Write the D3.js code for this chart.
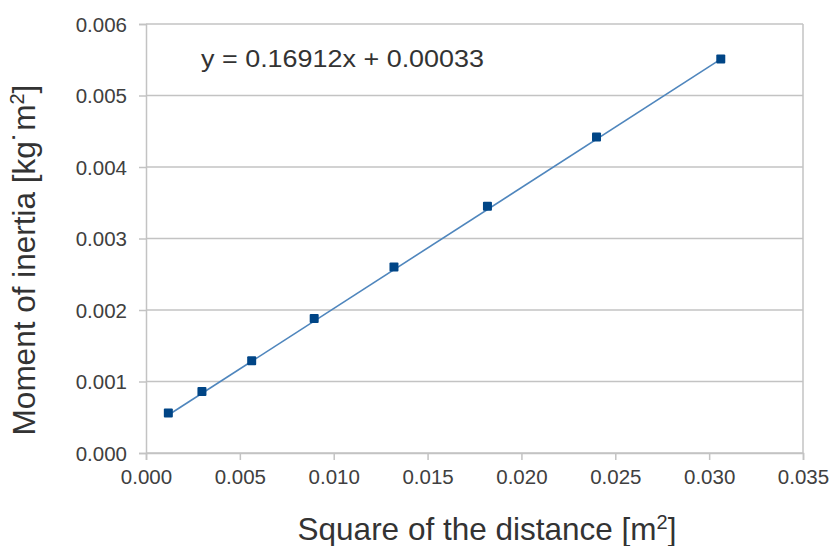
<!DOCTYPE html>
<html>
<head>
<meta charset="utf-8">
<script src="https://cdn.jsdelivr.net/npm/d3@7"></script>
<style>
  html, body { margin: 0; padding: 0; background: #fff; }
  svg { display: block; font-family: "Liberation Sans", Arial, sans-serif; }
</style>
</head>
<body>
<div id="chart"></div>
<script>
// datos
const distSq  = [0.00119, 0.00298, 0.00563, 0.00896, 0.01321, 0.01819, 0.0240, 0.03062];
const inertia = [0.00056, 0.00086, 0.00129, 0.00188, 0.00260, 0.00345, 0.00442, 0.00551];
const slope = 0.16912;
const intercept = 0.00033;
const xTicks = [0, 0.005, 0.010, 0.015, 0.020, 0.025, 0.030, 0.035];
const yTicks = [0, 0.001, 0.002, 0.003, 0.004, 0.005, 0.006];

// estilo
const W = 829, H = 546;
const GRID = "#c3c3c3";
const TXT  = "#404040";
const MARK = "#004586";
const LINE = "#4f86bd";

const m = { left: 146, right: 26, top: 24, bottom: 93 };

const svg = d3.select("#chart").append("svg")
  .attr("width", W)
  .attr("height", H);

const x = d3.scaleLinear().domain([0, 0.035]).range([m.left, W - m.right]);
const y = d3.scaleLinear().domain([0, 0.006]).range([H - m.bottom, m.top]);

// rejilla horizontal
svg.append("g")
  .selectAll("line")
  .data(yTicks)
  .join("line")
  .attr("x1", x(0)).attr("x2", x(0.035))
  .attr("y1", d => y(d)).attr("y2", d => y(d))
  .attr("stroke", GRID).attr("stroke-width", 1.5);

// borde derecho
svg.append("line")
  .attr("x1", x(0.035)).attr("x2", x(0.035))
  .attr("y1", y(0)).attr("y2", y(0.006))
  .attr("stroke", GRID).attr("stroke-width", 1.5);

// ejes
const xAxis = svg.append("g")
  .attr("transform", `translate(0,${y(0)})`)
  .call(d3.axisBottom(x).tickValues(xTicks).tickFormat(d3.format(".3f")).tickSize(7).tickPadding(9));

const yAxis = svg.append("g")
  .attr("transform", `translate(${x(0)},0)`)
  .call(d3.axisLeft(y).tickValues(yTicks).tickFormat(d3.format(".3f")).tickSize(7).tickPadding(12));

[xAxis, yAxis].forEach(a => {
  a.select(".domain").attr("stroke", GRID).attr("stroke-width", 1.5);
  a.selectAll(".tick line").attr("stroke", GRID).attr("stroke-width", 1.5);
  a.selectAll(".tick text")
    .attr("fill", TXT)
    .style("font-size", "20.5px")
    .style("font-family", "Liberation Sans, Arial, sans-serif");
});
yAxis.selectAll(".tick text").attr("dy", "0.35em");

// línea de tendencia
const xs = d3.extent(distSq);
svg.append("line")
  .attr("x1", x(xs[0])).attr("y1", y(slope * xs[0] + intercept))
  .attr("x2", x(xs[1])).attr("y2", y(slope * xs[1] + intercept))
  .attr("stroke", LINE).attr("stroke-width", 1.6);

// puntos
const S = 9;
svg.append("g")
  .selectAll("rect")
  .data(distSq.map((d, i) => [d, inertia[i]]))
  .join("rect")
  .attr("x", d => x(d[0]) - S / 2)
  .attr("y", d => y(d[1]) - S / 2)
  .attr("width", S).attr("height", S)
  .attr("rx", 1)
  .attr("fill", MARK);

// ecuación
svg.append("text")
  .attr("x", 201).attr("y", 67)
  .attr("fill", "#333")
  .style("font-size", "24px")
  .attr("textLength", 283)
  .attr("lengthAdjust", "spacingAndGlyphs")
  .text("y = 0.16912x + 0.00033");

// títulos de ejes
const xt = svg.append("text")
  .attr("x", 487).attr("y", 540)
  .attr("text-anchor", "middle")
  .attr("fill", "#333")
  .style("font-size", "31.5px");
xt.append("tspan").text("Square of the distance [m");
xt.append("tspan").attr("dy", -11).style("font-size", "20px").text("2");
xt.append("tspan").attr("dy", 11).text("]");

const yt = svg.append("text")
  .attr("transform", "translate(35,260) rotate(-90)")
  .attr("text-anchor", "middle")
  .attr("fill", "#333")
  .style("font-size", "31.5px");
yt.append("tspan").text("Moment of inertia [kg˙m");
yt.append("tspan").attr("dy", -11).style("font-size", "20px").text("2");
yt.append("tspan").attr("dy", 11).text("]");
</script>
</body>
</html>
